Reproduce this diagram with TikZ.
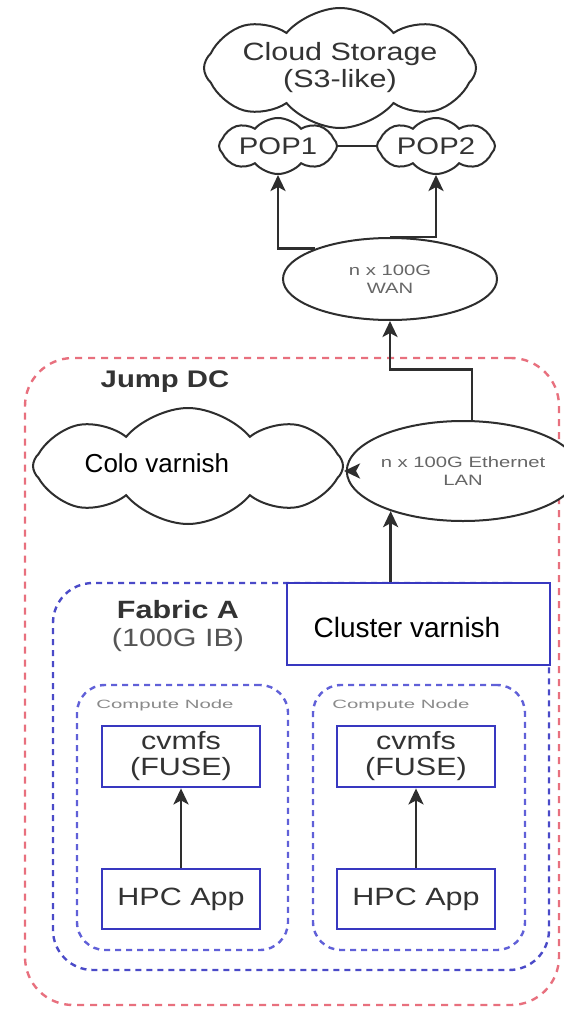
\documentclass[tikz,border=0pt]{standalone}
\usepackage{fontspec}
\setmainfont{Liberation Sans}
\newfontfamily\wideface[FakeStretch=1.22]{Liberation Sans}
\newfontfamily\widerface[FakeStretch=1.35]{Liberation Sans}
\newfontfamily\widestface[FakeStretch=1.7]{Liberation Sans}
\usetikzlibrary{shapes.geometric,shapes.symbols,arrows.meta,calc}

\definecolor{inkgray}{HTML}{333333}
\definecolor{midgray}{HTML}{555555}
\definecolor{softgray}{HTML}{666666}
\definecolor{palegray}{HTML}{8A8A8A}
\definecolor{linegray}{HTML}{2E2E2E}
\definecolor{boxblue}{HTML}{3838C0}
\definecolor{dashblue}{HTML}{4A4AC8}
\definecolor{nodeblue}{HTML}{6060D8}
\definecolor{dcred}{HTML}{E8707E}

\tikzset{
  puffy/.style={cloud, cloud puffs=8, cloud puff arc=100, cloud ignores aspect,
    draw=linegray, line width=2pt, fill=white, inner sep=0pt,
    text=inkgray, align=center},
  oval/.style={ellipse, draw=linegray, line width=2pt, fill=white, inner sep=0pt,
    text=softgray, align=center, font=\widerface\fontsize{15}{18}\selectfont},
  solidbox/.style={rectangle, draw=boxblue, line width=2.8pt, fill=white, inner sep=0pt,
    text=inkgray, align=center, font=\wideface\fontsize{25}{26}\selectfont},
  dcframe/.style={rectangle, draw=dcred, line width=2.4pt, dash pattern=on 7pt off 6pt,
    rounded corners=48pt},
  fabricframe/.style={rectangle, draw=dashblue, line width=2.4pt, dash pattern=on 6pt off 5pt,
    rounded corners=40pt},
  cnframe/.style={rectangle, draw=nodeblue, line width=2.4pt, dash pattern=on 6pt off 5pt,
    rounded corners=28pt},
  arr/.style={draw=linegray, line width=2.8pt, -{Stealth[length=16pt,width=15pt,inset=4pt]}},
  pasted/.style={fill=white, text=black, inner sep=2pt}
}

\begin{document}
\begin{tikzpicture}[x=1pt,y=-1pt]
\useasboundingbox (0,0) rectangle (564,1011);
\fill[white] (0,0) rectangle (564,1011);

% outer data-centre frame and inner fabric frame
\node[dcframe, minimum width=534pt, minimum height=647pt] (jump) at (292,681.5) {};
\node[fabricframe, minimum width=496pt, minimum height=387pt] (fabric) at (301,776.5) {};
\node[cnframe, minimum width=211pt, minimum height=265pt] (cn1) at (182.5,817.5) {};
\node[cnframe, minimum width=212pt, minimum height=265pt] (cn2) at (419,817.5) {};

\node[text=inkgray, font=\wideface\bfseries\fontsize{24}{26}\selectfont] (jumplbl) at (165,382) {Jump DC};
\node[text=inkgray, align=center, font=\wideface\fontsize{25}{28}\selectfont] (fablbl) at (178,626)
  {{\bfseries Fabric A}\\{\color{midgray}(100G IB)}};
\node[text=palegray, font=\widestface\fontsize{12}{14}\selectfont] (cn1lbl) at (165,705) {Compute Node};
\node[text=palegray, font=\widestface\fontsize{12}{14}\selectfont] (cn2lbl) at (401,705) {Compute Node};

% cloud storage and points of presence
\node[puffy, minimum width=272pt, minimum height=120pt,
      font=\wideface\fontsize{25}{27}\selectfont] (s3) at (340,68)
  {Cloud Storage\\(S3-like)};
\node[puffy, minimum width=118pt, minimum height=56pt,
      font=\wideface\fontsize{24}{26}\selectfont] (pop1) at (278,146) {POP1};
\node[puffy, minimum width=118pt, minimum height=56pt,
      font=\wideface\fontsize{24}{26}\selectfont] (pop2) at (436,146) {POP2};
\draw[draw=linegray, line width=1.8pt] (pop1.east) -- (pop2.west);

% network ellipses
\node[oval, minimum width=214pt, minimum height=82pt] (wan) at (390,279) {n x 100G\\WAN};
\node[oval, minimum width=196pt, minimum height=100pt] (lan) at (463,471) {n x 100G Ethernet\\LAN};

% colocation cache
\node[puffy, minimum width=310pt, minimum height=116pt] (colo) at (188,466) {};
\node[pasted, font=\fontsize{26}{28}\selectfont] (colotxt) at (157,463) {Colo varnish};

% cluster cache
\node[solidbox, minimum width=263pt, minimum height=82pt] (cv) at (418.5,624) {};
\node[pasted, font=\fontsize{28}{30}\selectfont] (cvtxt) at (407,627) {Cluster varnish};

% compute-node software stacks
\node[solidbox, minimum width=158pt, minimum height=61pt] (fuse1) at (181,756.5) {cvmfs\\(FUSE)};
\node[solidbox, minimum width=158pt, minimum height=60pt] (hpc1) at (181,899) {HPC App};
\node[solidbox, minimum width=158pt, minimum height=61pt] (fuse2) at (416,756.5) {cvmfs\\(FUSE)};
\node[solidbox, minimum width=158pt, minimum height=60pt] (hpc2) at (416,899) {HPC App};

% connectors
\draw[arr] (hpc1.north) -- (fuse1.south);
\draw[arr] (hpc2.north) -- (fuse2.south);
\draw[arr] (cv.north -| lan.209.65) -- (lan.209.65);
\draw[arr] (lan.west) -- (lan.west -| colo.east);
\draw[arr] (lan.80) -- ++(0,-51) -| (wan.south);
\draw[arr] (wan.158) -| (pop1.south);
\draw[arr] (wan.north) -| (pop2.south);
\end{tikzpicture}
\end{document}
